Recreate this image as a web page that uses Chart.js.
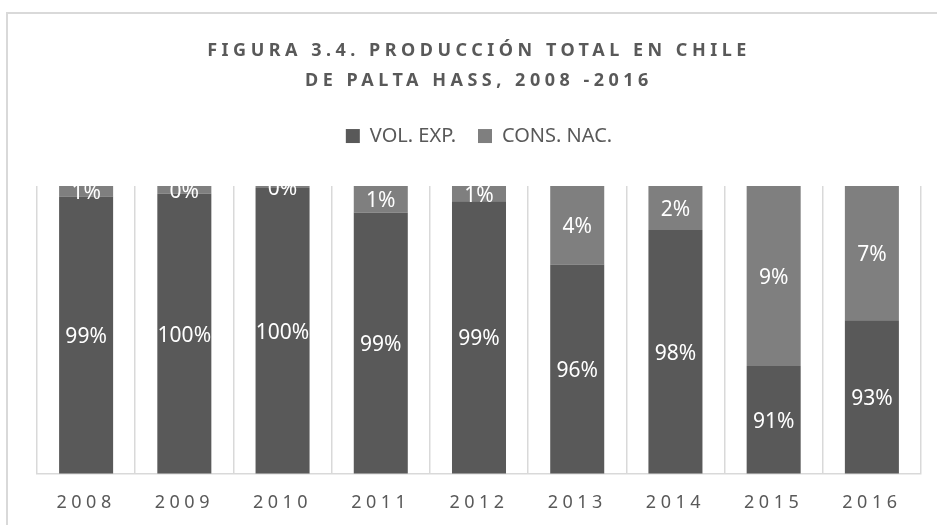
<!DOCTYPE html>
<html>
<head>
<meta charset="utf-8">
<script src="https://cdn.jsdelivr.net/npm/chart.js@4.4.0/dist/chart.umd.min.js"></script>
<style>
    html, body { margin: 0; padding: 0; background: #fff; }
    #wrap { position: relative; width: 937px; height: 525px; overflow: hidden; }
    /* light frame round the figure, as in the exported sheet */
    #frame { position: absolute; left: 6px; top: 12px; width: 1000px; height: 1000px;
             border-left: 2px solid #d9d9d9; border-top: 2px solid #d9d9d9; }
    canvas { position: absolute; left: 0; top: 0; }
</style>
</head>
<body>
<div id="wrap">
    <div id="frame"></div>
    <canvas id="myChart" width="937" height="525"></canvas>
</div>
<script>
// data (share of total production, %)
var years = ['2008', '2009', '2010', '2011', '2012', '2013', '2014', '2015', '2016'];
var volExp = [99.45, 99.6, 99.9, 98.6, 99.2, 95.9, 97.7, 90.6, 93.0];
var consNac = [0.55, 0.4, 0.1, 1.4, 0.8, 4.1, 2.3, 9.4, 7.0];
var seriesNames = ['VOL. EXP.', 'CONS. NAC.'];
var titleLines = ['FIGURA 3.4. PRODUCCIÓN TOTAL EN CHILE', 'DE PALTA HASS, 2008 -2016'];
// the value axis of the original is cut at 85%
var axisMin = 85;
var axisMax = 100;

var FONT = "'Noto Sans', sans-serif";
var TEXT = '#595959';
var GRID = '#d9d9d9';

// title and year ticks are letter-spaced, legend is not
var spacingPlugin = {
    id: 'spacing',
    beforeInit: function(chart) {
        var legend = chart.legend;
        var fit = legend.fit;
        legend.fit = function() {
            fit.call(this);
            this.height += 30;  // gap between legend and the bars
        };
        var draw = legend.draw;
        legend.draw = function() {
            var ctx = this.ctx;
            var old = ctx.letterSpacing;
            ctx.letterSpacing = '0px';
            draw.apply(this, arguments);
            ctx.letterSpacing = old;
        };
    },
    beforeDraw: function(chart) {
        chart.ctx.letterSpacing = '4.5px';
    },
    afterDraw: function(chart) {
        chart.ctx.letterSpacing = '0px';
    }
};

// percentage labels, centred in the visible part of each segment
var valueLabels = {
    id: 'valueLabels',
    afterDatasetsDraw: function(chart) {
        var ctx = chart.ctx;
        var area = chart.chartArea;
        ctx.save();
        ctx.letterSpacing = '0px';
        ctx.beginPath();
        ctx.rect(area.left, area.top, area.right - area.left, area.bottom - area.top);
        ctx.clip();
        ctx.font = '21px ' + FONT;
        ctx.fillStyle = '#ffffff';
        ctx.textAlign = 'center';
        ctx.textBaseline = 'middle';
        chart.data.datasets.forEach(function(ds, di) {
            var meta = chart.getDatasetMeta(di);
            meta.data.forEach(function(bar, i) {
                var y0 = Math.max(Math.min(bar.y, bar.base), area.top);
                var y1 = Math.min(Math.max(bar.y, bar.base), area.bottom);
                ctx.fillText(Math.round(ds.data[i]) + '%', bar.x, (y0 + y1) / 2 + 2);
            });
        });
        ctx.restore();
    }
};

var ctx = document.getElementById('myChart').getContext('2d');
var myChart = new Chart(ctx, {
    type: 'bar',
    data: {
        labels: years,
        datasets: [{
            label: seriesNames[0],
            data: volExp,
            backgroundColor: '#595959',
            borderWidth: 0,
            barPercentage: 0.55,
            categoryPercentage: 1.0
        }, {
            label: seriesNames[1],
            data: consNac,
            backgroundColor: '#7f7f7f',
            borderWidth: 0,
            barPercentage: 0.55,
            categoryPercentage: 1.0
        }]
    },
    options: {
        responsive: false,
        animation: false,
        layout: { padding: { left: 37, right: 16, top: 0, bottom: -8 } },
        plugins: {
            title: {
                display: true,
                text: titleLines,
                color: TEXT,
                font: { family: FONT, size: 18, weight: 'bold', lineHeight: 1.64 },
                padding: { top: 36.5, bottom: 8.5 }
            },
            legend: {
                position: 'top',
                labels: {
                    color: TEXT,
                    font: { family: FONT, size: 20 },
                    boxWidth: 14,
                    boxHeight: 14,
                    padding: 22
                }
            },
            tooltip: { enabled: false }
        },
        scales: {
            x: {
                stacked: true,
                grid: { color: GRID, lineWidth: 1.5, drawTicks: false, offset: true },
                border: { color: GRID, width: 1.5 },
                ticks: { color: TEXT, font: { family: FONT, size: 18 }, padding: 19 }
            },
            y: {
                stacked: true,
                display: false,
                min: axisMin,
                max: axisMax
            }
        }
    },
    plugins: [spacingPlugin, valueLabels]
});
</script>
</body>
</html>
